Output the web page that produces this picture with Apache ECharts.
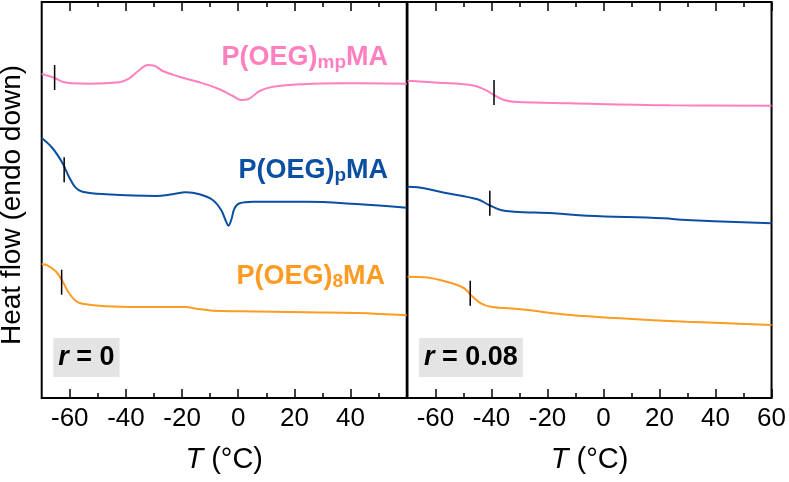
<!DOCTYPE html>
<html><head><meta charset="utf-8">
<script src="https://cdn.jsdelivr.net/npm/echarts@6/dist/echarts.min.js"></script>
<style>html,body{margin:0;padding:0;background:#fff}#c{width:789px;height:482px}</style>
</head><body><div id="c"></div>
<script>
// ---- tick values ----
const majorTicksLeft = [-60, -40, -20, 0, 20, 40];
const majorTicksRight = [-60, -40, -20, 0, 20, 40, 60];
const minorTicks = [-50, -30, -10, 10, 30, 50];

// ---- left panel (r = 0) ----
const tLeftPink = [-70, -65.6, -62.6, -59, -53, -42.4, -38.8, -35.2, -32.3, -29.9, -26.9, -21, -13.8, -6.7, -1.9, 1.1, 3.4, 7.6, 12.4, 24.3, 36.2, 60];
const hLeftPink = [324, 320.3, 316.3, 314.7, 314.3, 315.7, 319.7, 328, 333, 332.3, 327, 321.3, 315.7, 308.7, 302, 298, 298.7, 307, 311.3, 314, 314.7, 314.3];
const tLeftBlue = [-70, -66.2, -62.6, -60.3, -57.9, -55.5, -47.1, -29.3, -23.4, -18.6, -13.8, -9.1, -6.1, -4.3, -3.5, -2.5, -1.3, 0.5, 5.2, 24.3, 42.1, 60];
const hLeftBlue = [260, 250, 235, 221.3, 210.3, 206.3, 203.7, 202, 203.7, 205.7, 203.7, 198, 188, 176.3, 172.3, 178, 189.7, 194.7, 196.3, 196.3, 194, 190.3];
const tLeftOrange = [-70, -68, -65, -62.6, -60.3, -57.9, -55.5, -47.1, -35.2, -18.6, -15, -9.1, 0.5, 24.3, 42.1, 60];
const hLeftOrange = [134, 132.7, 126.7, 116.7, 105, 97.3, 94.3, 91.7, 91, 91, 89.3, 87.3, 86.7, 85.7, 85, 82.7];

// ---- right panel (r = 0.08) ----
const tRightPink = [-70, -59.2, -47.4, -42.6, -39.1, -35.5, -32, -11.8, 23.7, 60];
const hRightPink = [317.3, 315.3, 313, 308.7, 303, 298, 296.3, 294.7, 292.7, 292.3];
const tRightBlue = [-70, -66.3, -56.8, -45, -40.9, -36.7, -32, -17.8, -5.9, 21.3, 29.6, 60];
const hRightBlue = [211.3, 210.7, 205.3, 198.7, 193, 188, 186.3, 184.7, 182.3, 179.7, 178, 174.7];
const tRightOrange = [-70, -63.9, -53.3, -49.7, -47.4, -43.8, -40.2, -29.6, -11.8, 5.9, 29.6, 60];
const hRightOrange = [121.3, 120.7, 114, 109.7, 103, 94.7, 91.3, 88.7, 83, 79.7, 76.3, 73];

// ---- Tg markers (temperature, heat-flow at marker centre) ----
const tgLeftT = [-65.4, -62, -62.9];
const tgLeftH = [320.5, 228.3, 115.8];
const tgRightT = [-39.1, -40.6, -47.6];
const tgRightH = [305.5, 194.7, 104.7];

const seriesNames = ['P(OEG)mpMA', 'P(OEG)pMA', 'P(OEG)8MA'];
const panelLabels = ['0', '0.08'];

const colors = ['#ff7fbf', '#0b4fa2', '#ff9a22'];
const FONT = "'Liberation Sans', Arial, sans-serif";

function zip(a, b) { return a.map((v, i) => [v, b[i]]); }

function xAxesFor(grid, majors, showLabels) {
  const base = {
    type: 'value', gridIndex: grid, min: -70, max: 60,
    axisLine: { show: false }, splitLine: { show: false }
  };
  const tickStyle = { color: '#000', width: 1.5 };
  return [
    Object.assign({}, base, {
      position: 'bottom',
      axisTick: { show: true, inside: true, length: 9, lineStyle: tickStyle, customValues: majors },
      axisLabel: { show: true, customValues: showLabels, fontSize: 26, color: '#000', fontFamily: FONT, margin: 8 },
      name: '{i|T} (°C)', nameLocation: 'middle', nameGap: 47,
      nameTextStyle: { fontSize: 29, color: '#000', fontFamily: FONT,
        rich: { i: { fontStyle: 'italic', fontSize: 29, fontFamily: FONT, color: '#000' } } }
    }),
    Object.assign({}, base, {
      position: 'bottom',
      axisTick: { show: true, inside: true, length: 5, lineStyle: tickStyle, customValues: minorTicks },
      axisLabel: { show: false }
    }),
    Object.assign({}, base, {
      position: 'top',
      axisTick: { show: true, inside: true, length: 9, lineStyle: tickStyle, customValues: majors },
      axisLabel: { show: false }
    }),
    Object.assign({}, base, {
      position: 'top',
      axisTick: { show: true, inside: true, length: 5, lineStyle: tickStyle, customValues: minorTicks },
      axisLabel: { show: false }
    })
  ];
}

function curve(name, t, h, color, xi, yi) {
  return {
    type: 'line', name: name, xAxisIndex: xi, yAxisIndex: yi,
    data: zip(t, h), showSymbol: false, symbol: 'none',
    smooth: 0.4,
    lineStyle: { color: color, width: 2 }, itemStyle: { color: color },
    silent: true
  };
}
function marker(t, h, xi, yi) {
  const half = 12.5;
  return {
    type: 'line', xAxisIndex: xi, yAxisIndex: yi,
    data: [[t, h - half], [t, h + half]], showSymbol: false, symbol: 'none',
    lineStyle: { color: '#000', width: 1.5 }, silent: true, z: 5
  };
}

const series = [
  curve(seriesNames[0], tLeftPink, hLeftPink, colors[0], 0, 0),
  curve(seriesNames[1], tLeftBlue, hLeftBlue, colors[1], 0, 0),
  curve(seriesNames[2], tLeftOrange, hLeftOrange, colors[2], 0, 0),
  curve(seriesNames[0], tRightPink, hRightPink, colors[0], 4, 1),
  curve(seriesNames[1], tRightBlue, hRightBlue, colors[1], 4, 1),
  curve(seriesNames[2], tRightOrange, hRightOrange, colors[2], 4, 1)
];
tgLeftT.forEach((t, i) => series.push(marker(t, tgLeftH[i], 0, 0)));
tgRightT.forEach((t, i) => series.push(marker(t, tgRightH[i], 4, 1)));

function seriesLabel(x, y, main, sub, tail, color) {
  return {
    type: 'text', x: x, y: y, z: 10,
    style: {
      text: '{m|' + main + '}{s|' + sub + '}{m|' + tail + '}',
      align: 'right', verticalAlign: 'middle',
      rich: {
        m: { fontSize: 27, fontWeight: 'bold', fontFamily: FONT, fill: color, lineHeight: 30 },
        s: { fontSize: 19, fontWeight: 'bold', fontFamily: FONT, fill: color, lineHeight: 12, verticalAlign: 'bottom' }
      }
    }
  };
}
function panelLabel(x, y, val) {
  return {
    type: 'text', x: x, y: y, z: 10,
    style: {
      text: '{i|r} = ' + val,
      align: 'left', verticalAlign: 'top',
      fontSize: 27, fontWeight: 'bold', fontFamily: FONT, fill: '#000', lineHeight: 27,
      backgroundColor: '#e4e4e4', padding: [6, 5, 6, 5],
      rich: { i: { fontSize: 27, fontWeight: 'bold', fontStyle: 'italic', fontFamily: FONT, fill: '#000', lineHeight: 27 } }
    }
  };
}

const option = {
  animation: false,
  backgroundColor: '#fff',
  grid: [
    { left: 41.7, top: 2, width: 365, height: 396, show: true, borderColor: '#000', borderWidth: 2, backgroundColor: 'transparent' },
    { left: 407.5, top: 2, width: 366.5, height: 396, show: true, borderColor: '#000', borderWidth: 2, backgroundColor: 'transparent' }
  ],
  xAxis: xAxesFor(0, majorTicksLeft, majorTicksLeft).concat(xAxesFor(1, majorTicksRight, majorTicksRight)),
  yAxis: [
    { type: 'value', gridIndex: 0, min: 0, max: 396, show: false },
    { type: 'value', gridIndex: 1, min: 0, max: 396, show: false }
  ],
  series: series,
  graphic: [
    { type: 'text', x: 12, y: 205, rotation: Math.PI / 2, z: 10,
      style: { text: 'Heat flow (endo down)', fontSize: 28, fontFamily: FONT, fill: '#000', align: 'center', verticalAlign: 'middle' } },
    seriesLabel(388, 57.5, 'P(OEG)', 'mp', 'MA', colors[0]),
    seriesLabel(388, 170.5, 'P(OEG)', 'p', 'MA', colors[1]),
    seriesLabel(385, 276.3, 'P(OEG)', '8', 'MA', colors[2]),
    panelLabel(53.3, 338, panelLabels[0]),
    panelLabel(419, 338, panelLabels[1])
  ]
};

const chart = echarts.init(document.getElementById('c'), null, { renderer: 'canvas' });
chart.setOption(option);
</script>
</body></html>
